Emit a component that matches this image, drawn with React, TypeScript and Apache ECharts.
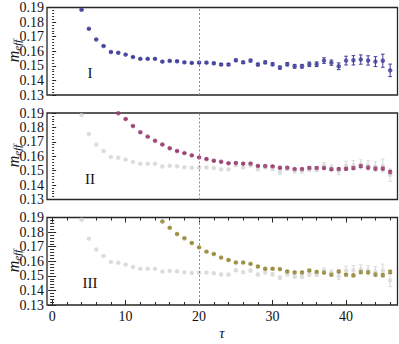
import React, { useEffect, useRef } from 'react';
import * as echarts from 'echarts';

// ---- data ----
const tauA = [4,5,6,7,8,9,10,11,12,13,14,15,16,17,18,19,20,21,22,23,24,25,26,27,28,29,30,31,32,33,34,35,36,37,38,39,40,41,42,43,44,45,46];
const mA = [0.1885,0.1754,0.1681,0.1636,0.1595,0.1590,0.1577,0.1561,0.1548,0.1548,0.1548,0.1529,0.1534,0.1531,0.1524,0.1520,0.1522,0.1522,0.1518,0.1509,0.1509,0.1538,0.1524,0.1536,0.1509,0.1524,0.1511,0.1488,0.1511,0.1497,0.1497,0.1511,0.1511,0.1536,0.1522,0.1497,0.1536,0.1538,0.1543,0.1537,0.1529,0.1535,0.1469];
const eA = [0.0002,0.0002,0.0002,0.0002,0.0003,0.0003,0.0003,0.0003,0.0004,0.0004,0.0004,0.0004,0.0005,0.0005,0.0005,0.0005,0.0006,0.0006,0.0006,0.0007,0.0007,0.0008,0.0008,0.0009,0.0009,0.0010,0.0010,0.0011,0.0011,0.0013,0.0013,0.0015,0.0016,0.0019,0.0018,0.0023,0.0030,0.0032,0.0032,0.0032,0.0034,0.0045,0.0043];

const tauB = [9,10,11,12,13,14,15,16,17,18,19,20,21,22,23,24,25,26,27,28,29,30,31,32,33,34,35,36,37,38,39,40,41,42,43,44,45,46];
const mB = [0.1898,0.1858,0.1810,0.1766,0.1736,0.1708,0.1681,0.1655,0.1636,0.1622,0.1606,0.1592,0.1581,0.1569,0.1562,0.1551,0.1553,0.1549,0.1549,0.1533,0.1532,0.1530,0.1520,0.1520,0.1511,0.1511,0.1519,0.1518,0.1519,0.1510,0.1511,0.1513,0.1519,0.1532,0.1522,0.1515,0.1515,0.1490];
const eB = [0.0002,0.0002,0.0002,0.0002,0.0002,0.0002,0.0003,0.0003,0.0003,0.0003,0.0003,0.0004,0.0004,0.0004,0.0004,0.0004,0.0005,0.0005,0.0005,0.0005,0.0005,0.0006,0.0006,0.0006,0.0006,0.0007,0.0007,0.0007,0.0007,0.0008,0.0008,0.0008,0.0009,0.0009,0.0009,0.0010,0.0010,0.0012];

const tauC = [15,16,17,18,19,20,21,22,23,24,25,26,27,28,29,30,31,32,33,34,35,36,37,38,39,40,41,42,43,44,45,46];
const mC = [0.1873,0.1830,0.1787,0.1758,0.1725,0.1695,0.1666,0.1650,0.1625,0.1609,0.1591,0.1591,0.1582,0.1564,0.1549,0.1549,0.1546,0.1530,0.1524,0.1524,0.1537,0.1527,0.1522,0.1508,0.1530,0.1508,0.1503,0.1527,0.1525,0.1509,0.1505,0.1527];
const eC = [0.0002,0.0002,0.0002,0.0002,0.0003,0.0003,0.0003,0.0003,0.0003,0.0004,0.0004,0.0004,0.0004,0.0005,0.0005,0.0005,0.0005,0.0006,0.0006,0.0006,0.0007,0.0007,0.0007,0.0008,0.0008,0.0008,0.0009,0.0009,0.0009,0.0010,0.0010,0.0011];

const xMajor = [0, 10, 20, 30, 40];
const xMinor = [2,4,6,8,12,14,16,18,22,24,26,28,32,34,36,38,42,44,46];
const plateauStart = 20;
const panelNames = ['I', 'II', 'III'];

const COLORS = ['#3f3d99', '#993d71', '#998b3d'];
const GRAY = '#d9d9d9';
const FRAME = '#262626';
const SERIF = '"Liberation Serif", "Times New Roman", serif';

const gridTops = [7.5, 113, 217.5];
const gridHeights = [87.5, 86.5, 87.5];

function errSeries(tau: number[], m: number[], e: number[], color: string, idx: number) {
  return {
    type: 'custom',
    xAxisIndex: idx,
    yAxisIndex: idx,
    clip: true,
    silent: true,
    data: tau.map((t, i) => [t, m[i], e[i]]),
    renderItem: (params: any, api: any) => {
      const x = api.value(0), y = api.value(1), er = api.value(2);
      const top = api.coord([x, y + er]);
      const bot = api.coord([x, y - er]);
      const w = 1.8;
      const st = { stroke: color, lineWidth: 1 };
      return {
        type: 'group',
        children: [
          { type: 'line', shape: { x1: top[0], y1: top[1], x2: bot[0], y2: bot[1] }, style: st },
          { type: 'line', shape: { x1: top[0] - w, y1: top[1], x2: top[0] + w, y2: top[1] }, style: st },
          { type: 'line', shape: { x1: bot[0] - w, y1: bot[1], x2: bot[0] + w, y2: bot[1] }, style: st },
        ],
      };
    },
  };
}

function pointSeries(tau: number[], m: number[], color: string, idx: number, withLine: boolean) {
  const s: any = {
    type: 'scatter',
    xAxisIndex: idx,
    yAxisIndex: idx,
    symbol: 'circle',
    symbolSize: 4.5,
    itemStyle: { color },
    silent: true,
    data: tau.map((t, i) => [t, m[i]]),
  };
  if (withLine) {
    s.markLine = {
      silent: true,
      symbol: ['none', 'none'],
      label: { show: false },
      lineStyle: { color: '#8c8c8c', type: [2, 2], width: 1 },
      data: [{ xAxis: plateauStart }],
    };
  }
  return s;
}

export default function App() {
  const ref = useRef<HTMLDivElement>(null);
  useEffect(() => {
    if (!ref.current) return;
    const chart = echarts.init(ref.current, undefined, { renderer: 'svg' });

    const grids = gridTops.map((t, i) => ({
      left: 47,
      right: 1.5,
      top: t,
      height: gridHeights[i],
      show: true,
      borderColor: FRAME,
      borderWidth: 1.3,
      backgroundColor: 'transparent',
    }));

    const xBase = { type: 'value', min: -0.7, max: 47 };
    const tickStyle = { color: FRAME, width: 1 };
    const xAxes: any[] = [
      { ...xBase, gridIndex: 0, show: false },
      { ...xBase, gridIndex: 1, show: false },
      {
        ...xBase, gridIndex: 2, position: 'bottom',
        axisLine: { show: false }, splitLine: { show: false },
        axisTick: { show: true, inside: true, length: 5, lineStyle: tickStyle, customValues: xMajor },
        axisLabel: { show: true, customValues: xMajor, fontFamily: SERIF, fontSize: 14, color: '#111', margin: 4 },
      },
      {
        ...xBase, gridIndex: 2, position: 'bottom',
        axisLine: { show: false }, splitLine: { show: false },
        axisTick: { show: true, inside: true, length: 3, lineStyle: tickStyle, customValues: xMinor },
        axisLabel: { show: false },
      },
      {
        ...xBase, gridIndex: 2, position: 'top',
        axisLine: { show: false }, splitLine: { show: false },
        axisTick: { show: true, inside: true, length: 5, lineStyle: tickStyle, customValues: xMajor },
        axisLabel: { show: false },
      },
      {
        ...xBase, gridIndex: 2, position: 'top',
        axisLine: { show: false }, splitLine: { show: false },
        axisTick: { show: true, inside: true, length: 3, lineStyle: tickStyle, customValues: xMinor },
        axisLabel: { show: false },
      },
    ];

    const yBase = {
      type: 'value', min: 0.13, max: 0.19, interval: 0.01,
      axisLine: { show: false }, splitLine: { show: false },
      axisTick: { show: true, inside: true, length: 4, lineStyle: tickStyle },
      minorTick: { show: true, splitNumber: 5, length: 2, lineStyle: tickStyle },
    };
    const yLabel = {
      show: true, fontFamily: SERIF, fontSize: 14, color: '#111', margin: 3,
      formatter: (v: number) => v.toFixed(2),
    };
    const yAxes: any[] = [
      { ...yBase, gridIndex: 0, position: 'left', axisLabel: yLabel },
      { ...yBase, gridIndex: 1, position: 'left', axisLabel: yLabel },
      { ...yBase, gridIndex: 2, position: 'left', axisLabel: yLabel },
      { ...yBase, gridIndex: 2, position: 'right', axisLabel: { show: false } },
    ];

    const series: any[] = [
      errSeries(tauA, mA, eA, COLORS[0], 0),
      pointSeries(tauA, mA, COLORS[0], 0, true),
      errSeries(tauA, mA, eA, GRAY, 1),
      pointSeries(tauA, mA, GRAY, 1, false),
      errSeries(tauB, mB, eB, COLORS[1], 1),
      pointSeries(tauB, mB, COLORS[1], 1, true),
      errSeries(tauA, mA, eA, GRAY, 2),
      pointSeries(tauA, mA, GRAY, 2, false),
      errSeries(tauC, mC, eC, COLORS[2], 2),
      pointSeries(tauC, mC, COLORS[2], 2, true),
    ];

    const graphics: any[] = [];
    const labelYs = [73, 179, 283];
    panelNames.forEach((n, i) => {
      graphics.push({
        type: 'text', x: 90, y: labelYs[i],
        style: { text: n, font: `15px ${SERIF}`, fill: '#111', align: 'center', verticalAlign: 'middle' },
      });
      const cy = gridTops[i] + gridHeights[i] / 2;
      graphics.push({
        type: 'group', x: 13, y: cy, rotation: Math.PI / 2,
        children: [
          { type: 'text', x: -11, y: 0, style: { text: 'm', font: `italic 16px ${SERIF}`, fill: '#111', align: 'left', verticalAlign: 'middle' } },
          { type: 'text', x: 0.5, y: 4, style: { text: 'eff', font: `italic 11px ${SERIF}`, fill: '#111', align: 'left', verticalAlign: 'middle' } },
        ],
      });
    });
    graphics.push({
      type: 'text', x: 222, y: 333,
      style: { text: 'τ', font: `italic 15px ${SERIF}`, fill: '#111', align: 'center', verticalAlign: 'middle' },
    });

    chart.setOption({
      animation: false,
      grid: grids,
      xAxis: xAxes,
      yAxis: yAxes,
      series,
      graphic: graphics,
    });
    return () => chart.dispose();
  }, []);
  return <div ref={ref} style={{ position: 'fixed', left: 0, top: 0, width: 399, height: 344, background: '#fff' }} />;
}
